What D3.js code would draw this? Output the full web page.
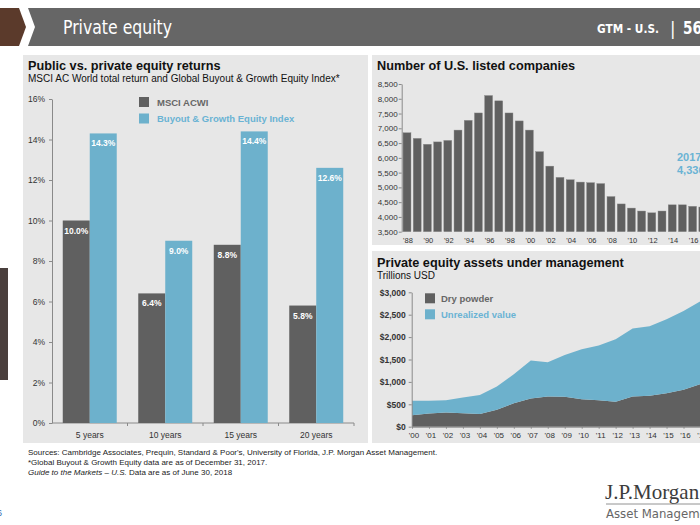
<!DOCTYPE html>
<html><head><meta charset="utf-8">
<script src="https://cdn.jsdelivr.net/npm/d3@7"></script>
<style>
html,body{margin:0;padding:0;background:#fff;}
svg{display:block;font-family:"Liberation Sans",Arial,sans-serif;}
</style></head>
<body><svg id="c" width="700" height="525"></svg>
<script>
// ---------- data ----------
const returnCategories = ["5 years", "10 years", "15 years", "20 years"];
const msciAcwi = [10.0, 6.4, 8.8, 5.8];
const buyoutGrowth = [14.3, 9.0, 14.4, 12.6];
const returnTicks = [0, 2, 4, 6, 8, 10, 12, 14, 16];

const listedYears = [1988, 1989, 1990, 1991, 1992, 1993, 1994, 1995, 1996, 1997, 1998, 1999, 2000, 2001, 2002,
  2003, 2004, 2005, 2006, 2007, 2008, 2009, 2010, 2011, 2012, 2013, 2014, 2015, 2016, 2017];
const listedCompanies = [6850, 6660, 6460, 6540, 6590, 6940, 7270, 7520, 8110, 7930, 7520, 7250, 6940, 6210, 5720,
  5340, 5260, 5180, 5160, 5130, 4690, 4440, 4300, 4200, 4140, 4200, 4410, 4410, 4360, 4336];
const listedTicks = [3500, 4000, 4500, 5000, 5500, 6000, 6500, 7000, 7500, 8000, 8500];
const listedLabelYears = [1988, 1990, 1992, 1994, 1996, 1998, 2000, 2002, 2004, 2006, 2008, 2010, 2012, 2014, 2016];

const aumYears = [2000, 2001, 2002, 2003, 2004, 2005, 2006, 2007, 2008, 2009, 2010, 2011, 2012, 2013, 2014, 2015, 2016, 2017];
const dryPowder = [255, 295, 315, 300, 285, 380, 525, 630, 675, 670, 615, 590, 555, 675, 690, 745, 825, 950];
const unrealizedValue = [325, 285, 275, 350, 425, 520, 645, 850, 765, 930, 1115, 1220, 1395, 1515, 1550, 1655, 1755, 1850];
const aumTicks = [0, 500, 1000, 1500, 2000, 2500, 3000];

// ---------- style ----------
const DARK = "#606060", BLUE = "#6db1cc", BLUE_TXT = "#6ab3d4", PANEL = "#e7e7e7", TXT = "#333";
const svg = d3.select("#c");
svg.append("rect").attr("width", 700).attr("height", 525).attr("fill", "#fff");

// ---------- header ----------
svg.append("polygon").attr("points", "0,8 19,8 26,27 19,46 0,46").attr("fill", "#5b3a2b");
svg.append("polygon").attr("points", "28,8 700,8 700,46 28,46 35,27").attr("fill", "#666");
const narrow = "'Liberation Sans Narrow','DejaVu Sans Condensed',sans-serif";
svg.append("text").attr("x", 63).attr("y", 34).attr("fill", "#fff").style("font-family", narrow)
  .style("font-size", "19px").attr("textLength", 109).attr("lengthAdjust", "spacingAndGlyphs").text("Private equity");
svg.append("text").attr("x", 597).attr("y", 33).attr("fill", "#fff").style("font-family", narrow)
  .style("font-size", "13px").style("font-weight", "bold").attr("textLength", 62).attr("lengthAdjust", "spacingAndGlyphs").text("GTM - U.S.");
svg.append("text").attr("x", 670).attr("y", 35).attr("fill", "#fff").style("font-family", narrow)
  .style("font-size", "18px").text("|");
svg.append("text").attr("x", 683).attr("y", 34).attr("fill", "#fff").style("font-family", narrow)
  .style("font-size", "17px").style("font-weight", "bold").attr("textLength", 19).attr("lengthAdjust", "spacingAndGlyphs").text("56");

// left edge fragment
svg.append("rect").attr("x", 0).attr("y", 268).attr("width", 8).attr("height", 112).attr("fill", "#4a3f3d");
svg.append("text").attr("x", 2).attr("y", 516).attr("text-anchor", "end").attr("fill", "#3a6fb5")
  .style("font-size", "9px").text("6");

// panels
svg.append("rect").attr("x", 23).attr("y", 55).attr("width", 345).attr("height", 388).attr("fill", PANEL);
svg.append("rect").attr("x", 372).attr("y", 55).attr("width", 330).attr("height", 190).attr("fill", PANEL);
svg.append("rect").attr("x", 372).attr("y", 251).attr("width", 330).attr("height", 192).attr("fill", PANEL);

function styleAxis(g, fs, weight) {
  g.selectAll("path").attr("stroke", "#8a8a8a");
  g.selectAll("line").attr("stroke", "#8a8a8a");
  g.selectAll("text").attr("fill", TXT).style("font-size", fs).style("font-weight", weight || "normal")
    .style("font-family", "'Liberation Sans',Arial,sans-serif");
}

// ---------- left chart ----------
svg.append("text").attr("x", 28).attr("y", 70).style("font-size", "12.7px").style("font-weight", "bold")
  .attr("fill", "#111").text("Public vs. private equity returns");
svg.append("text").attr("x", 28).attr("y", 82).style("font-size", "10px").attr("fill", "#111")
  .text("MSCI AC World total return and Global Buyout & Growth Equity Index*");

const yL = d3.scaleLinear().domain([0, 16]).range([423, 99]);
const x0 = d3.scaleBand().domain(returnCategories).range([52, 354]).paddingInner(0.285).paddingOuter(0.1425);
const seriesKeys = ["msci", "buyout"];
const x1 = d3.scaleBand().domain(seriesKeys).range([0, x0.bandwidth()]);
const gyL = svg.append("g").attr("transform", "translate(52,0)")
  .call(d3.axisLeft(yL).tickValues(returnTicks).tickFormat(d => d + "%").tickSize(3).tickPadding(4).tickSizeOuter(0));
styleAxis(gyL, "8.5px");
// x axis
const gxL = svg.append("g").attr("transform", "translate(0,423)");
gxL.append("line").attr("x1", 52).attr("x2", 354).attr("stroke", "#8a8a8a");
returnCategories.forEach((c, i) => {
  const xr = x0(c) + x0.bandwidth() + x0.step() * x0.paddingInner() / 2;
  gxL.append("line").attr("x1", xr).attr("x2", xr).attr("y1", 0).attr("y2", 3).attr("stroke", "#8a8a8a");
  gxL.append("text").attr("x", x0(c) + x0.bandwidth() / 2).attr("y", 15).attr("text-anchor", "middle")
    .attr("fill", TXT).style("font-size", "8.5px").text(c);
});
const rows = returnCategories.map((c, i) => ({ c, vals: [msciAcwi[i], buyoutGrowth[i]] }));
const gBars = svg.append("g");
rows.forEach(r => {
  r.vals.forEach((v, j) => {
    const bx = x0(r.c) + x1(seriesKeys[j]);
    gBars.append("rect").attr("x", bx).attr("y", yL(v)).attr("width", x1.bandwidth())
      .attr("height", yL(0) - yL(v)).attr("fill", j === 0 ? DARK : BLUE);
    gBars.append("text").attr("x", bx + x1.bandwidth() / 2).attr("y", yL(v) + 13).attr("text-anchor", "middle")
      .attr("fill", "#fff").style("font-size", "8.5px").style("font-weight", "bold").text(v.toFixed(1) + "%");
  });
});
// legend
[["MSCI ACWI", DARK, "#666"], ["Buyout & Growth Equity Index", BLUE, BLUE_TXT]].forEach((d, i) => {
  svg.append("rect").attr("x", 139).attr("y", 97 + i * 16.5).attr("width", 10).attr("height", 10).attr("fill", d[1]);
  svg.append("text").attr("x", 157).attr("y", 105.5 + i * 16.5).attr("fill", d[2]).style("font-size", "9.5px")
    .style("font-weight", "bold").text(d[0]);
});

// ---------- top right chart ----------
svg.append("text").attr("x", 377).attr("y", 70).style("font-size", "12.7px").style("font-weight", "bold")
  .attr("fill", "#111").text("Number of U.S. listed companies");
const yT = d3.scaleLinear().domain([3500, 8500]).range([231.7, 84]);
const xT = d3.scaleBand().domain(listedYears).range([401.9, 707.9]).paddingInner(0.22).paddingOuter(0.11);
svg.append("g").selectAll("rect").data(listedYears).join("rect")
  .attr("x", d => xT(d)).attr("width", xT.bandwidth())
  .attr("y", (d, i) => yT(listedCompanies[i])).attr("height", (d, i) => yT(3500) - yT(listedCompanies[i]))
  .attr("fill", DARK).attr("stroke", "#8c8c8c").attr("stroke-width", 0.4);
const gyT = svg.append("g").attr("transform", "translate(401.7,0)")
  .call(d3.axisLeft(yT).tickValues(listedTicks).tickFormat(d3.format(",")).tickSize(3).tickPadding(1).tickSizeOuter(0));
styleAxis(gyT, "8px");
svg.append("g").selectAll("text").data(listedLabelYears).join("text")
  .attr("x", d => xT(d) + xT.bandwidth() / 2 + 1).attr("y", 243).attr("text-anchor", "middle")
  .attr("fill", TXT).style("font-size", "7.5px").text(d => "'" + String(d).slice(2));
svg.append("text").attr("x", 677).attr("y", 161).attr("fill", BLUE_TXT).style("font-size", "11px")
  .style("font-weight", "bold").text(listedYears[listedYears.length - 1]);
svg.append("text").attr("x", 677).attr("y", 174).attr("fill", BLUE_TXT).style("font-size", "11px")
  .style("font-weight", "bold").text(d3.format(",")(listedCompanies[listedCompanies.length - 1]));

// ---------- bottom right chart ----------
svg.append("text").attr("x", 377).attr("y", 267).style("font-size", "12.7px").style("font-weight", "bold")
  .attr("fill", "#111").text("Private equity assets under management");
svg.append("text").attr("x", 377).attr("y", 279).style("font-size", "10px").attr("fill", "#111").text("Trillions USD");
const yA = d3.scaleLinear().domain([0, 3000]).range([426.7, 292.3]);
const xA = d3.scalePoint().domain(aumYears).range([412, 700.5]);
const aumRows = aumYears.map((y, i) => ({ year: y, dry: dryPowder[i], unreal: unrealizedValue[i] }));
const stack = d3.stack().keys(["dry", "unreal"])(aumRows);
const area = d3.area().x(d => xA(d.data.year)).y0(d => yA(d[0])).y1(d => yA(d[1]));
svg.append("g").selectAll("path").data(stack).join("path")
  .attr("d", area).attr("fill", (d, i) => i === 0 ? DARK : BLUE);
const gyA = svg.append("g").attr("transform", "translate(411.7,0)")
  .call(d3.axisLeft(yA).tickValues(aumTicks).tickFormat(d => "$" + d3.format(",")(d)).tickSize(3).tickPadding(3).tickSizeOuter(0));
styleAxis(gyA, "8.5px", "bold");
const gxA = svg.append("g").attr("transform", "translate(0,426.7)")
  .call(d3.axisBottom(xA).tickFormat(d => "'" + String(d).slice(2)).tickSize(2).tickPadding(4).tickSizeOuter(0));
styleAxis(gxA, "8px");
gxA.selectAll("text").attr("dx", "1.5");
// legend
[["Dry powder", DARK, "#666"], ["Unrealized value", BLUE, BLUE_TXT]].forEach((d, i) => {
  svg.append("rect").attr("x", 425).attr("y", 293.3 + i * 16).attr("width", 10).attr("height", 10).attr("fill", d[1]);
  svg.append("text").attr("x", 441).attr("y", 302 + i * 16).attr("fill", d[2]).style("font-size", "9.5px")
    .style("font-weight", "bold").text(d[0]);
});

// ---------- footer ----------
const foot = svg.append("g").style("font-size", "8px").attr("fill", "#222");
foot.append("text").attr("x", 28).attr("y", 455)
  .text("Sources: Cambridge Associates, Prequin, Standard & Poor's, University of Florida, J.P. Morgan Asset Management.");
foot.append("text").attr("x", 28).attr("y", 465).text("*Global Buyout & Growth Equity data are as of December 31, 2017.");
const t3 = foot.append("text").attr("x", 28).attr("y", 475);
t3.append("tspan").style("font-style", "italic").text("Guide to the Markets \u2013 U.S.");
t3.append("tspan").text(" Data are as of June 30, 2018");

// logo
svg.append("text").attr("x", 605).attr("y", 499).attr("fill", "#3c3c3c")
  .style("font-family", "'Liberation Serif','DejaVu Serif',serif").style("font-size", "21px").text("J.P.Morgan");
svg.append("line").attr("x1", 606).attr("x2", 700).attr("y1", 504).attr("y2", 504).attr("stroke", "#777").attr("stroke-width", 0.8);
svg.append("text").attr("x", 606).attr("y", 518).attr("fill", "#666").style("font-family", narrow)
  .style("font-size", "13px").text("Asset Management");
</script></body></html>
